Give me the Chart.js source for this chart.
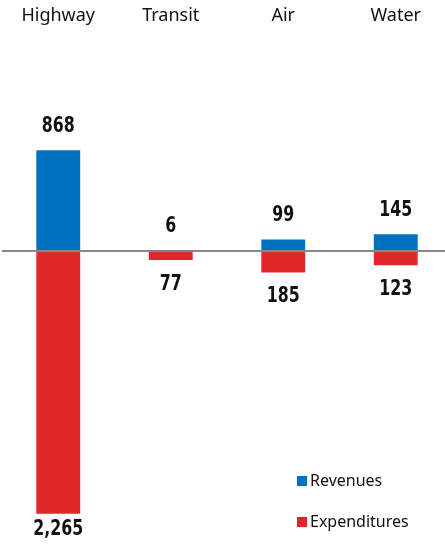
<!DOCTYPE html>
<html>
<head>
<meta charset="utf-8">
<script src="https://cdn.jsdelivr.net/npm/chart.js@4"></script>
<style>
  html, body { margin: 0; padding: 0; background: #fff; overflow: hidden; }
  #wrap { width: 452px; height: 548px; position: relative; }
</style>
</head>
<body>
<div id="wrap"><canvas id="myChart"></canvas></div>
<script>
var modes = ["Highway", "Transit", "Air", "Water"];
var revenues = [868, 6, 99, 145];
var expenditures = [2265, 77, 185, 123];
var seriesNames = ["Revenues", "Expenditures"];
var seriesColors = ["#0070C0", "#E0282A"];

// labels above / below each bar (condensed look)
var valueLabels = {
    id: "valueLabels",
    afterDatasetsDraw: function (chart) {
        var ctx = chart.ctx;
        var sx = 0.72;
        ctx.save();
        ctx.font = "bold 22px 'DejaVu Sans', sans-serif";
        ctx.fillStyle = "#111";
        ctx.textAlign = "center";
        ctx.textBaseline = "middle";
        ctx.scale(sx, 1);
        chart.data.datasets.forEach(function (ds, i) {
            chart.getDatasetMeta(i).data.forEach(function (bar, j) {
                var v = Math.abs(ds.data[j]).toLocaleString("en-US");
                var y = ds.data[j] >= 0 ? bar.y - 24 : Math.min(bar.y + 24, 529);
                ctx.fillText(v, bar.x / sx, y);
            });
        });
        ctx.restore();
    }
};

var boxLegend = {
    id: "boxLegend",
    afterDraw: function (chart) {
        var ctx = chart.ctx;
        ctx.save();
        ctx.font = "16px 'Noto Sans', sans-serif";
        ctx.textBaseline = "middle";
        chart.data.datasets.forEach(function (ds, i) {
            var y = 481 + i * 41;
            ctx.fillStyle = ds.backgroundColor;
            ctx.fillRect(297, y - 5, 10, 10);
            ctx.fillStyle = "#111";
            ctx.fillText(ds.label, 310, y);
        });
        ctx.restore();
    }
};

new Chart("myChart", {
    type: "bar",
    data: {
        labels: modes,
        datasets: [{
            label: seriesNames[0],
            backgroundColor: seriesColors[0],
            data: revenues
        }, {
            label: seriesNames[1],
            backgroundColor: seriesColors[1],
            data: expenditures.map(function (v) { return -v; })
        }]
    },
    options: {
        responsive: true,
        maintainAspectRatio: false,
        animation: false,
        layout: { padding: { left: 2, right: 0, top: 3, bottom: 8 } },
        plugins: {
            legend: { display: false },
            tooltip: { enabled: false }
        },
        datasets: { bar: { barPercentage: 0.39, categoryPercentage: 1 } },
        scales: {
            x: {
                position: "top",
                stacked: true,
                grid: { display: false },
                border: { display: false },
                ticks: { color: "#111", font: { family: "'Noto Sans', sans-serif", size: 18 }, padding: 2 }
            },
            y: {
                stacked: true,
                min: -2492,
                max: 1848,
                afterBuildTicks: function (axis) { axis.ticks = [{ value: 0 }]; },
                ticks: { display: false },
                border: { display: false },
                grid: {
                    color: "#888",
                    lineWidth: 2,
                    drawTicks: false
                }
            }
        }
    },
    plugins: [valueLabels, boxLegend]
});
</script>
</body>
</html>
